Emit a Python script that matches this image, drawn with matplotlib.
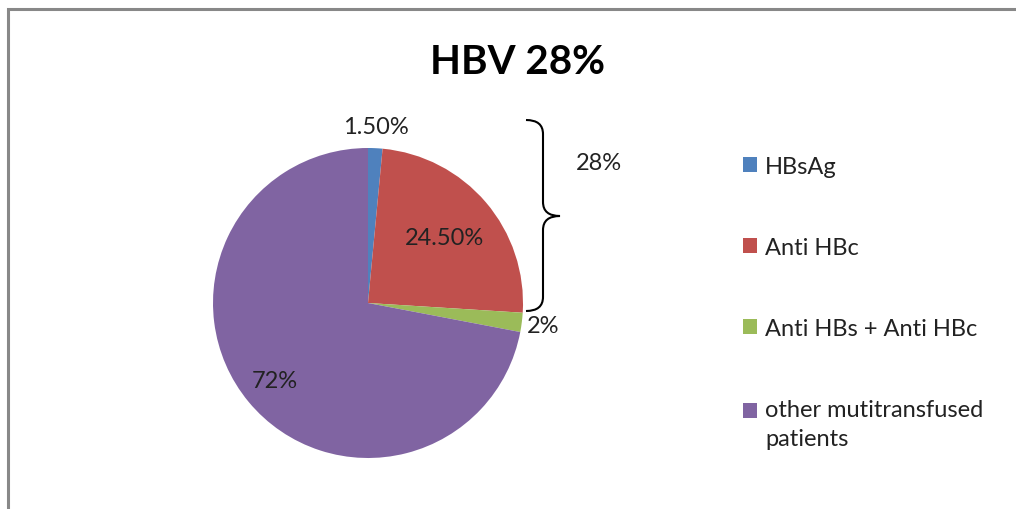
import numpy as np
import matplotlib
matplotlib.use("Agg")
import matplotlib.pyplot as plt
from matplotlib.path import Path
from matplotlib.patches import PathPatch, Rectangle

plt.rcParams['font.family'] = ['Lato', 'DejaVu Sans']

# data
categories = ["HBsAg", "Anti HBc", "Anti HBs + Anti HBc", "other mutitransfused\npatients"]
values = [1.5, 24.5, 2, 72]
value_labels = ["1.50%", "24.50%", "2%", "72%"]
colors = ["#4F81BD", "#C0504D", "#9BBB59", "#8064A2"]
label_dist = [1.14, 0.65, 1.14, 0.78]
title = "HBV 28%"

W, H = 1016, 510
fig = plt.figure(figsize=(W / 100, H / 100), dpi=100)

# chart frame (right and bottom edges are cut off in the original)
fig.patches.append(Rectangle((7.5 / W, -0.1), 1.2, (H - 9.5) / H + 0.1,
                             transform=fig.transFigure, fill=False,
                             edgecolor="#888888", linewidth=2.2))

# pie axes: centre (368, 304), radius 155 px
cx, cy, r = 368, 304, 155
ax = fig.add_axes([(cx - r) / W, (H - cy - r) / H, 2 * r / W, 2 * r / H])
wedges, _ = ax.pie(values, colors=colors, startangle=90, counterclock=False,
                   radius=1, wedgeprops=dict(linewidth=0))
ax.set_xlim(-1, 1)
ax.set_ylim(-1, 1)
ax.set_aspect("equal")
ax.axis("off")

for w, lab, d in zip(wedges, value_labels, label_dist):
    ang = np.deg2rad((w.theta1 + w.theta2) / 2)
    ax.text(d * np.cos(ang), d * np.sin(ang), lab, ha="center", va="center",
            fontsize=17, color="#222222", clip_on=False)

fig.text(517 / W, 1 - 62 / H, title, ha="center", va="center",
         fontsize=29, fontweight="bold", color="black")

# curly brace for the first three slices
def px(x, y):
    return (x / W, 1 - y / H)

top, bot, xl, xs, xt, ymid = 121, 312, 526, 543, 560, 217
verts = [px(xl, top), px(xs, top), px(xs, top + 14), px(xs, top + 14),
         px(xs, ymid - 14), px(xs, ymid), px(xt, ymid),
         px(xs, ymid), px(xs, ymid + 14), px(xs, ymid + 14),
         px(xs, bot - 14), px(xs, bot), px(xl, bot)]
codes = [Path.MOVETO, Path.CURVE3, Path.CURVE3, Path.LINETO,
         Path.LINETO, Path.CURVE3, Path.CURVE3,
         Path.CURVE3, Path.CURVE3, Path.LINETO,
         Path.LINETO, Path.CURVE3, Path.CURVE3]
fig.patches.append(PathPatch(Path(verts, codes), transform=fig.transFigure,
                             fill=False, edgecolor="black", linewidth=1.5))
fig.text(599 / W, 1 - 164 / H, "%g%%" % sum(values[:3]), ha="center", va="center",
         fontsize=17, color="#222222")

# legend
leg = fig.legend(wedges, categories, loc="upper left",
                 bbox_to_anchor=(731 / W, 1 - 145 / H), frameon=False,
                 fontsize=17, handlelength=0.6, handleheight=0.6,
                 handletextpad=0.35, labelspacing=2.55, borderpad=0,
                 labelcolor="#222222")
leg.get_texts()[3].set_linespacing(1.45)
# two-line entry: square sits next to the first line, as in Excel
h4 = leg.legend_handles[3]
h4.set_y(h4.get_y() + 10)

fig.savefig("out.png", dpi=100, facecolor="white")
